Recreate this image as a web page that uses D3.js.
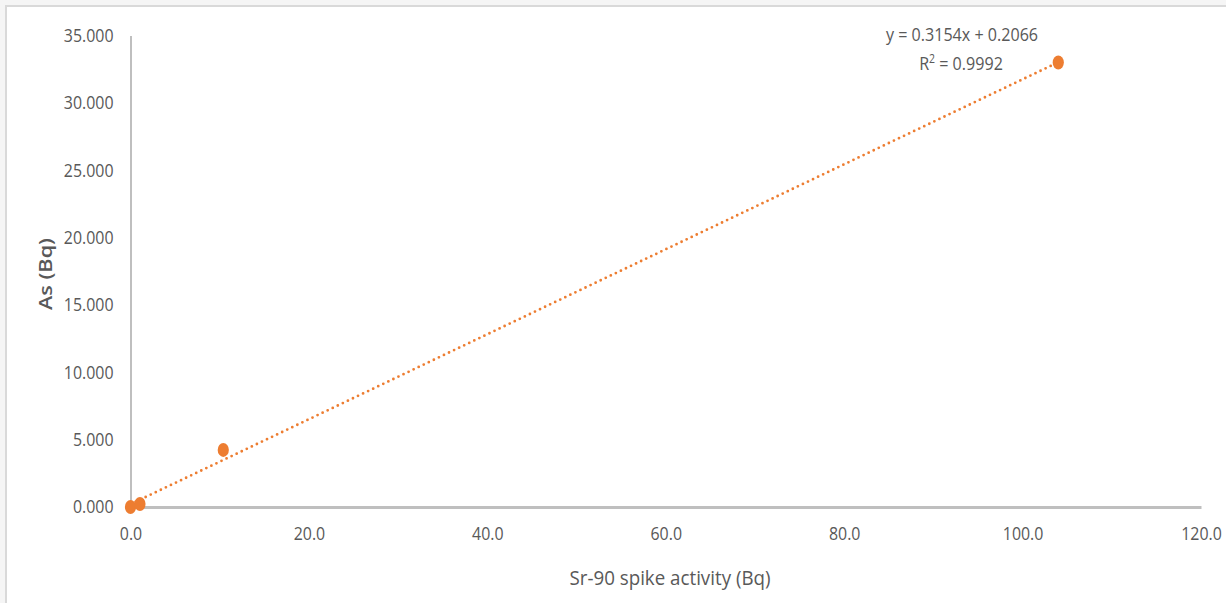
<!DOCTYPE html>
<html>
<head>
<meta charset="utf-8">
<script src="https://cdn.jsdelivr.net/npm/d3@7/dist/d3.min.js"></script>
<style>
  html, body { margin: 0; padding: 0; background: #f5f5f5; }
  svg { display: block; }
  text { font-family: "Open Sans", "Noto Sans", sans-serif; fill: #595959; }
</style>
</head>
<body>
<script>
// Calibration data: spike activity vs measured activity
const spikeActivity = [0.0, 1.06, 10.4, 104.0];
const measuredAs = [0.0, 0.22, 4.24, 33.0];
const xTicks = [0, 20, 40, 60, 80, 100, 120];
const yTicks = [0, 5, 10, 15, 20, 25, 30, 35];
const fitSlope = 0.3154;
const fitIntercept = 0.2066;
const fitR2 = 0.9992;

const W = 1226, H = 603;
const svg = d3.select("body").append("svg").attr("width", W).attr("height", H);

// narrow the glyphs horizontally to get a condensed face
function condense(sel, k) {
  sel.each(function () {
    const w = this.getComputedTextLength();
    d3.select(this).attr("textLength", w * k).attr("lengthAdjust", "spacingAndGlyphs");
  });
}

// chart area with a light frame along top and left
svg.append("rect").attr("x", 0).attr("y", 0).attr("width", W).attr("height", H).attr("fill", "#f5f5f5");
svg.append("rect").attr("x", 5).attr("y", 5).attr("width", W).attr("height", H).attr("fill", "#d9d9d9");
svg.append("rect").attr("x", 7).attr("y", 7).attr("width", W).attr("height", H).attr("fill", "#ffffff");

const x = d3.scaleLinear().domain([0, 120]).range([130.5, 1201]);
const y = d3.scaleLinear().domain([0, 35]).range([507, 35.5]);

// y axis
const yAxis = svg.append("g").attr("transform", `translate(${x(0)},0)`)
  .call(d3.axisLeft(y).tickValues(yTicks).tickSize(0).tickPadding(17).tickFormat(d3.format(".3f")));
yAxis.select(".domain").attr("stroke", "#bfbfbf").attr("stroke-width", 2);
yAxis.selectAll("text").style("font-size", "18.5px").attr("fill", "#595959").call(condense, 0.86);

// x axis
const xAxis = svg.append("g").attr("transform", `translate(0,${y(0)})`)
  .call(d3.axisBottom(x).tickValues(xTicks).tickSize(0).tickPadding(20).tickFormat(d3.format(".1f")));
xAxis.select(".domain").attr("stroke", "#bfbfbf").attr("stroke-width", 3);
xAxis.selectAll("text").style("font-size", "18.5px").attr("fill", "#595959").call(condense, 0.86);

// axis titles
svg.append("text")
  .attr("transform", `translate(52,274) rotate(-90)`)
  .attr("text-anchor", "middle")
  .style("font-size", "18px").style("font-weight", 600)
  .text("As (Bq)")
  .attr("textLength", 72).attr("lengthAdjust", "spacingAndGlyphs");
svg.append("text")
  .attr("x", 670).attr("y", 585)
  .attr("text-anchor", "middle")
  .style("font-size", "20px")
  .text("Sr-90 spike activity (Bq)")
  .attr("textLength", 201).attr("lengthAdjust", "spacingAndGlyphs");

// linear trendline
const xExt = d3.extent(spikeActivity);
svg.append("line")
  .attr("x1", x(xExt[0])).attr("y1", y(fitSlope * xExt[0] + fitIntercept))
  .attr("x2", x(xExt[1])).attr("y2", y(fitSlope * xExt[1] + fitIntercept))
  .attr("stroke", "#ED7D31").attr("stroke-width", 2.8)
  .attr("stroke-linecap", "round").attr("stroke-dasharray", "0,5.6");

// data points
svg.append("g").selectAll("ellipse")
  .data(spikeActivity.map((v, i) => [v, measuredAs[i]]))
  .join("ellipse")
  .attr("cx", d => x(d[0])).attr("cy", d => y(d[1]))
  .attr("rx", 5.6).attr("ry", 7)
  .attr("fill", "#ED7D31");

// trendline equation
svg.append("text").attr("x", 962).attr("y", 41).attr("text-anchor", "middle")
  .style("font-size", "18.5px")
  .text(`y = ${fitSlope}x + ${fitIntercept}`)
  .call(condense, 0.87);
const r2 = svg.append("text").attr("x", 961).attr("y", 70).attr("text-anchor", "middle")
  .style("font-size", "18.5px");
r2.append("tspan").text("R");
r2.append("tspan").attr("dy", -7).style("font-size", "12px").text("2");
r2.append("tspan").attr("dy", 7).text(` = ${fitR2}`);
r2.call(condense, 0.87);
</script>
</body>
</html>
